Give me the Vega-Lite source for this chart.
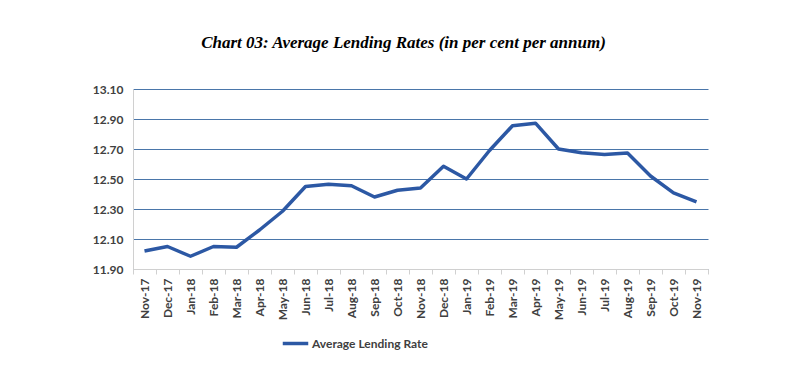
{
  "$schema": "https://vega.github.io/schema/vega-lite/v6.json",
  "autosize": "none",
  "width": 575,
  "height": 180,
  "padding": {"left": 133, "top": 89, "right": 92, "bottom": 117},
  "background": "white",
  "title": {
    "text": "Chart 03: Average Lending Rates (in per cent per annum)",
    "font": "Liberation Serif",
    "fontSize": 17,
    "fontStyle": "italic",
    "fontWeight": "bold",
    "color": "#000000",
    "anchor": "middle",
    "dx": -17,
    "offset": 31
  },
  "data": {
    "values": [
      {"month": "Nov-17", "rate": 12.02, "series": "Average Lending Rate"},
      {"month": "Dec-17", "rate": 12.05, "series": "Average Lending Rate"},
      {"month": "Jan-18", "rate": 11.985, "series": "Average Lending Rate"},
      {"month": "Feb-18", "rate": 12.05, "series": "Average Lending Rate"},
      {"month": "Mar-18", "rate": 12.045, "series": "Average Lending Rate"},
      {"month": "Apr-18", "rate": 12.16, "series": "Average Lending Rate"},
      {"month": "May-18", "rate": 12.285, "series": "Average Lending Rate"},
      {"month": "Jun-18", "rate": 12.45, "series": "Average Lending Rate"},
      {"month": "Jul-18", "rate": 12.465, "series": "Average Lending Rate"},
      {"month": "Aug-18", "rate": 12.455, "series": "Average Lending Rate"},
      {"month": "Sep-18", "rate": 12.38, "series": "Average Lending Rate"},
      {"month": "Oct-18", "rate": 12.425, "series": "Average Lending Rate"},
      {"month": "Nov-18", "rate": 12.44, "series": "Average Lending Rate"},
      {"month": "Dec-18", "rate": 12.585, "series": "Average Lending Rate"},
      {"month": "Jan-19", "rate": 12.50, "series": "Average Lending Rate"},
      {"month": "Feb-19", "rate": 12.69, "series": "Average Lending Rate"},
      {"month": "Mar-19", "rate": 12.855, "series": "Average Lending Rate"},
      {"month": "Apr-19", "rate": 12.872, "series": "Average Lending Rate"},
      {"month": "May-19", "rate": 12.70, "series": "Average Lending Rate"},
      {"month": "Jun-19", "rate": 12.675, "series": "Average Lending Rate"},
      {"month": "Jul-19", "rate": 12.663, "series": "Average Lending Rate"},
      {"month": "Aug-19", "rate": 12.673, "series": "Average Lending Rate"},
      {"month": "Sep-19", "rate": 12.52, "series": "Average Lending Rate"},
      {"month": "Oct-19", "rate": 12.407, "series": "Average Lending Rate"},
      {"month": "Nov-19", "rate": 12.347, "series": "Average Lending Rate"}
    ]
  },
  "mark": {"type": "line", "strokeWidth": 3.5, "strokeJoin": "round"},
  "encoding": {
    "x": {
      "field": "month",
      "type": "ordinal",
      "sort": null,
      "scale": {"paddingInner": 0, "paddingOuter": 0},
      "axis": {
        "title": null,
        "labelAngle": -90,
        "labelFont": "Lato",
        "labelFontWeight": "bold",
        "labelFontSize": 12,
        "labelColor": "#404040",
        "labelPadding": 4,
        "tickBand": "extent",
        "tickSize": 5,
        "tickColor": "#d0d0d0",
        "domainColor": "#d0d0d0",
        "grid": false
      }
    },
    "y": {
      "field": "rate",
      "type": "quantitative",
      "scale": {"domain": [11.9, 13.1], "zero": false, "nice": false},
      "axis": {
        "title": null,
        "values": [11.9, 12.1, 12.3, 12.5, 12.7, 12.9, 13.1],
        "format": ".2f",
        "labelFont": "Lato",
        "labelFontWeight": "bold",
        "labelFontSize": 12,
        "labelColor": "#404040",
        "labelPadding": 10,
        "ticks": false,
        "domainColor": "#d0d0d0",
        "gridColor": "#4a76aa",
        "gridWidth": 1
      }
    },
    "color": {
      "field": "series",
      "type": "nominal",
      "scale": {"range": ["#2c58a4"]},
      "legend": {
        "title": null,
        "orient": "none",
        "legendX": 148,
        "legendY": 240,
        "symbolType": "stroke",
        "symbolStrokeWidth": 3.5,
        "symbolSize": 650,
        "labelFont": "Lato",
        "labelFontWeight": "bold",
        "labelFontSize": 12,
        "labelColor": "#404040",
        "labelOffset": 2
      }
    }
  },
  "config": {
    "view": {"stroke": null}
  }
}
